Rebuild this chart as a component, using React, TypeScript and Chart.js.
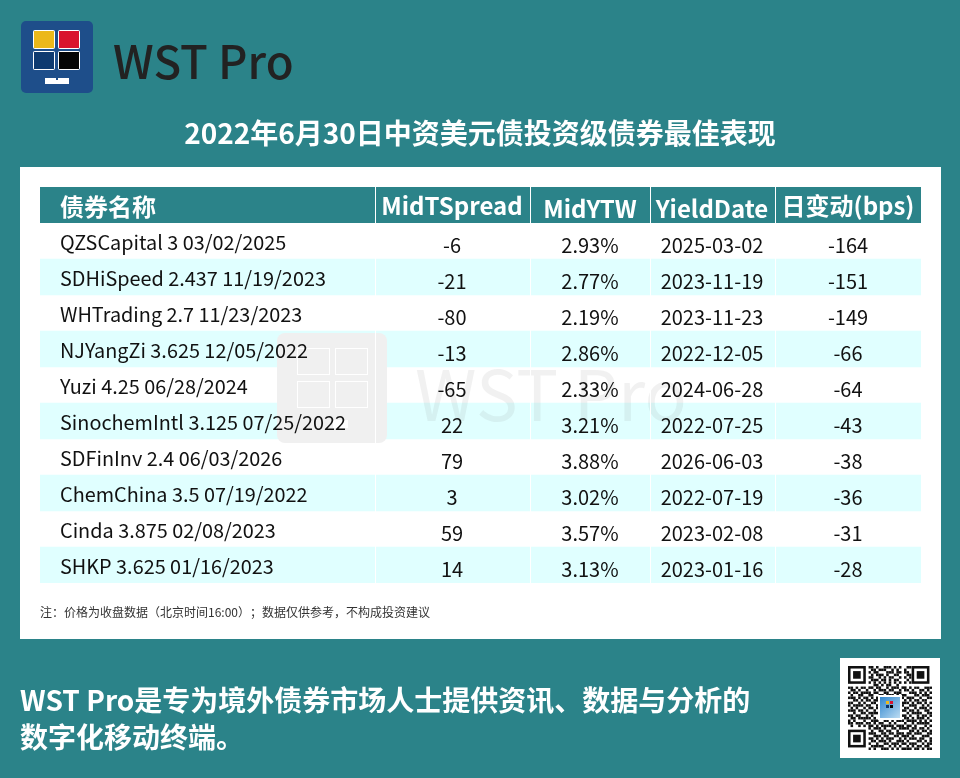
import React, { useEffect, useRef } from 'react';
import { Chart, registerables } from 'chart.js';

Chart.register(...registerables);

const FONT = '"Noto Sans CJK SC", "Noto Sans", sans-serif';
const TEAL = '#2b8389';

const title = '2022年6月30日中资美元债投资级债券最佳表现';
const headers = ['债券名称', 'MidTSpread', 'MidYTW', 'YieldDate', '日变动(bps)'];
const bondNames = [
  'QZSCapital 3 03/02/2025',
  'SDHiSpeed 2.437 11/19/2023',
  'WHTrading 2.7 11/23/2023',
  'NJYangZi 3.625 12/05/2022',
  'Yuzi 4.25 06/28/2024',
  'SinochemIntl 3.125 07/25/2022',
  'SDFinInv 2.4 06/03/2026',
  'ChemChina 3.5 07/19/2022',
  'Cinda 3.875 02/08/2023',
  'SHKP 3.625 01/16/2023',
];
const midTSpread = [-6, -21, -80, -13, -65, 22, 79, 3, 59, 14];
const midYTW = ['2.93%', '2.77%', '2.19%', '2.86%', '2.33%', '3.21%', '3.88%', '3.02%', '3.57%', '3.13%'];
const yieldDates = [
  '2025-03-02', '2023-11-19', '2023-11-23', '2022-12-05', '2024-06-28',
  '2022-07-25', '2026-06-03', '2022-07-19', '2023-02-08', '2023-01-16',
];
const dayChange = [-164, -151, -149, -66, -64, -43, -38, -36, -31, -28];
const note = '注：价格为收盘数据（北京时间16:00）；数据仅供参考，不构成投资建议';
const footerLines = ['WST Pro是专为境外债券市场人士提供资讯、数据与分析的', '数字化移动终端。'];

// rough copy of the code in the corner, finder squares are drawn separately
const qrRows = [
  '........1101001110101.011........',
  '........0110111001010.100........',
  '........1011000111011.110........',
  '........0101110100110.011........',
  '........1100101011001.101........',
  '........0111011010110.010........',
  '........1010101010101.101........',
  '........0011010110010.000........',
  '110101101101100101110110101100111',
  '011010010010111011001011010011010',
  '101101111011001100111000111010101',
  '010011001100110111010110001101110',
  '111010110101000000000101110010011',
  '001101011011000000000010101101100',
  '110010100110000000000111010110101',
  '101111011001000000000100111001010',
  '010100101101000000000011001011101',
  '111011010010000000000110110100110',
  '001001101111000000000001011110011',
  '110110010100000000000110100101101',
  '011011111010111010110011010111010',
  '101000100111001101011101111010101',
  '110111011010110010100010010111110',
  '010010101101011111011101101000101',
  '........1011101001101111011011010',
  '........0100110110010000110101101',
  '........1110011011011101101110011',
  '........0011101100110111010001110',
  '........1101010111001010111011001',
  '........0110111010011101000110101',
  '........1001001101110110111001011',
  '........0111110010101001010110110',
  '........1010011101010111101101011',
];

const chromePlugin = {
  id: 'chrome',
  beforeDraw(chart: Chart) {
    const ctx = chart.ctx;
    const area = chart.chartArea;
    ctx.save();
    ctx.fillStyle = TEAL;
    ctx.fillRect(0, 0, 960, 778);

    // logo
    ctx.fillStyle = '#1e4e8a';
    ctx.beginPath();
    ctx.roundRect(21, 21, 72, 72, 5);
    ctx.fill();
    const panes = [
      [34, 31, '#ecb81a'],
      [59, 31, '#d9132e'],
      [34, 52, '#0e3a70'],
      [59, 52, '#050505'],
    ] as const;
    panes.forEach(([x, y, color]) => {
      ctx.fillStyle = '#ffffff';
      ctx.beginPath();
      ctx.roundRect(x - 1, y - 1, 22, 19, 2);
      ctx.fill();
      ctx.fillStyle = color;
      ctx.fillRect(x, y, 20, 17);
    });
    ctx.fillStyle = '#ffffff';
    ctx.fillRect(45, 78, 24, 6);
    ctx.fillStyle = '#1e4e8a';
    ctx.fillRect(56, 78, 2, 2);

    ctx.textBaseline = 'alphabetic';
    ctx.textAlign = 'left';
    ctx.fillStyle = '#222222';
    ctx.font = `500 45.5px ${FONT}`;
    ctx.fillText('WST Pro', 113, 79);

    ctx.fillStyle = '#ffffff';
    ctx.textAlign = 'center';
    ctx.font = `700 28px ${FONT}`;
    ctx.fillText(title, 480, 144);

    // white sheet
    ctx.fillStyle = '#ffffff';
    ctx.fillRect(20, 167, 921, 472);

    // header band
    ctx.fillStyle = TEAL;
    ctx.fillRect(area.left, 187, area.width, area.top - 187);

    ctx.textAlign = 'left';
    ctx.fillStyle = '#333333';
    ctx.font = `400 12px ${FONT}`;
    ctx.fillText(note, 40, 617);

    // footer
    ctx.fillStyle = '#ffffff';
    ctx.font = `700 28px ${FONT}`;
    footerLines.forEach((line, i) => ctx.fillText(line, 20, 711 + i * 37));

    // qr
    ctx.fillStyle = '#ffffff';
    ctx.fillRect(840, 658, 100, 100);
    const cell = 84 / 33;
    ctx.fillStyle = '#111111';
    qrRows.forEach((row, r) => {
      [...row].forEach((c, col) => {
        if (c === '1') ctx.fillRect(848 + col * cell, 666 + r * cell, cell, cell);
      });
    });
    const finders = [[848, 666], [848 + 25 * cell, 666], [848, 666 + 25 * cell]];
    finders.forEach(([x, y]) => {
      const s = 7 * cell;
      ctx.fillStyle = '#ffffff';
      ctx.fillRect(x, y, s + cell, s + cell);
      ctx.fillStyle = '#111111';
      ctx.fillRect(x, y, s, s);
      ctx.fillStyle = '#ffffff';
      ctx.fillRect(x + cell, y + cell, 5 * cell, 5 * cell);
      ctx.fillStyle = '#111111';
      ctx.fillRect(x + 2 * cell, y + 2 * cell, 3 * cell, 3 * cell);
    });
    ctx.fillStyle = '#ffffff';
    ctx.fillRect(878, 695, 24, 25);
    const grad = ctx.createLinearGradient(880, 697, 900, 718);
    grad.addColorStop(0, '#2f86cf');
    grad.addColorStop(1, '#bcdcf2');
    ctx.fillStyle = grad;
    ctx.fillRect(880, 697, 20, 21);
    [[886, 701, '#ecb81a'], [890, 701, '#d9132e'], [886, 705, '#0e3a70'], [890, 705, '#050505']].forEach(([x, y, c]) => {
      ctx.fillStyle = c as string;
      ctx.fillRect(x as number, y as number, 3, 3);
    });
    ctx.restore();
  },
};

const cellsPlugin = {
  id: 'cells',
  // goes over the stripes but under the row labels
  afterDatasetsDraw(chart: Chart) {
    const ctx = chart.ctx;
    const area = chart.chartArea;
    ctx.save();

    // watermark
    ctx.fillStyle = '#f0f0f0';
    ctx.beginPath();
    ctx.roundRect(277, 333, 110, 110, 8);
    ctx.fill();
    ctx.strokeStyle = '#ffffff';
    ctx.lineWidth = 1;
    [[297, 348], [335, 348], [297, 381], [335, 381]].forEach(([x, yy]) => {
      ctx.strokeRect(x + 0.5, yy + 0.5, 32, 26);
    });
    ctx.fillStyle = '#ffffff';
    ctx.fillRect(333, 420, 15, 8);
    ctx.fillStyle = 'rgba(120,120,120,0.1)';
    ctx.textAlign = 'left';
    ctx.textBaseline = 'alphabetic';
    ctx.font = `400 70px ${FONT}`;
    ctx.fillText('WST Pro', 415, 421);

    // column rules
    ctx.fillStyle = '#ffffff';
    [375, 530, 650, 775].forEach((x) => ctx.fillRect(x, 187, 1, area.bottom - 187));
    ctx.restore();
  },
  afterDraw(chart: Chart) {
    const ctx = chart.ctx;
    const y = chart.scales.y;
    ctx.save();
    ctx.textBaseline = 'alphabetic';

    // header cells
    ctx.fillStyle = '#ffffff';
    ctx.font = `700 24px ${FONT}`;
    ctx.textAlign = 'left';
    ctx.fillText(headers[0], 60, 216);
    ctx.textAlign = 'center';
    ctx.fillText(headers[1], 452, 215);
    ctx.fillText(headers[2], 590, 218);
    ctx.fillText(headers[3], 712, 218);
    ctx.fillText(headers[4], 848, 215);

    // value cells
    ctx.fillStyle = '#111111';
    ctx.font = `400 20px ${FONT}`;
    bondNames.forEach((_, i) => {
      const py = y.getPixelForValue(i) + 12;
      ctx.fillText(String(midTSpread[i]), 452, py);
      ctx.fillText(midYTW[i], 590, py);
      ctx.fillText(yieldDates[i], 712, py);
      ctx.fillText(String(dayChange[i]), 848, py);
    });
    ctx.restore();
  },
};

export default function App() {
  const canvasRef = useRef<HTMLCanvasElement>(null);

  useEffect(() => {
    document.body.style.margin = '0';
    if (!canvasRef.current) return;
    const chart = new Chart(canvasRef.current, {
      type: 'bar',
      data: {
        labels: bondNames,
        datasets: [
          {
            label: 'stripe',
            data: bondNames.map((_, i) => (i % 2 === 1 ? [0, 1] : null)) as any,
            backgroundColor: '#e0ffff',
            barPercentage: 1,
            categoryPercentage: 1,
          },
        ],
      },
      options: {
        indexAxis: 'y',
        animation: false,
        responsive: false,
        devicePixelRatio: 1,
        layout: { padding: { left: 0, right: 39, top: 223, bottom: 195 } },
        plugins: { legend: { display: false }, tooltip: { enabled: false } },
        scales: {
          x: { display: false, min: 0, max: 1 },
          y: {
            border: { display: false },
            grid: { display: false, drawTicks: false },
            ticks: {
              mirror: true,
              autoSkip: false,
              padding: 20,
              z: 1,
              labelOffset: 1.5,
              color: '#111111',
              font: { family: FONT, size: 19.85 },
            },
          },
        },
      },
      plugins: [chromePlugin, cellsPlugin],
    });
    return () => chart.destroy();
  }, []);

  return <canvas ref={canvasRef} width={960} height={778} style={{ display: 'block' }} />;
}
